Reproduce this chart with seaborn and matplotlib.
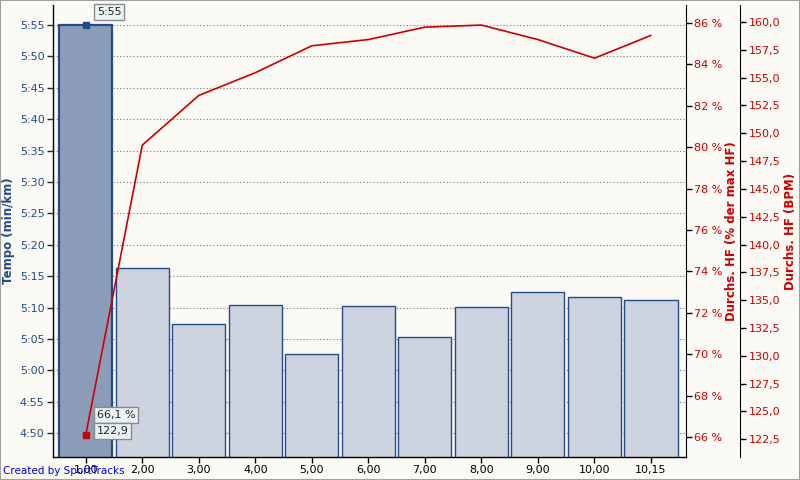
import matplotlib
matplotlib.use("Agg")
import matplotlib.pyplot as plt
import matplotlib.ticker as mticker
import matplotlib.patches as mpatches
import seaborn as sns
import pandas as pd

# Data
km_labels = ["1,00", "2,00", "3,00", "4,00", "5,00", "6,00", "7,00", "8,00", "9,00", "10,00", "10,15"]
pace_sec = [355, 316.3, 307.4, 310.4, 302.6, 310.3, 305.3, 310.1, 312.5, 311.7, 311.2]
hr_pct = [66.1, 80.1, 82.5, 83.6, 84.9, 85.2, 85.8, 85.9, 85.2, 84.3, 85.4]
max_hr = 122.9 / 0.661

bg = "#FBFAF5"
navy = "#244A8A"
red = "#CC0000"

sns.set_style("white")
plt.rcParams["font.family"] = ["DejaVu Sans"]

df = pd.DataFrame({"km": km_labels, "pace": pace_sec, "pct": hr_pct})

fig = plt.figure(figsize=(8, 4.8), dpi=100, facecolor=bg)
ax = fig.add_axes([53 / 800, 23 / 480, 633 / 800, 452 / 480])
ax.set_facecolor(bg)

sns.barplot(data=df, x="km", y="pace", color="#CDD3DF", edgecolor=navy,
            linewidth=1, width=0.94, saturation=1, ax=ax)
ax.patches[0].set_facecolor("#8A9CB8")
ax.patches[0].set_linewidth(1.6)

ax.set_ylim(286.2, 358.2)
ax.set_xlim(-0.58, 10.62)
ax.yaxis.set_major_locator(mticker.MultipleLocator(5))
ax.yaxis.set_major_formatter(mticker.FuncFormatter(lambda v, p: f"{int(v // 60)}:{int(round(v % 60)):02d}"))
ax.grid(axis="y", color="#777777", linestyle=(0, (1, 2)), linewidth=0.8)
for b in ax.patches:
    b.set_zorder(1)
for gl in ax.get_ygridlines():
    gl.set_zorder(2)
ax.tick_params(axis="y", labelsize=8, length=4, width=1, direction="out", left=True, pad=2)
ax.tick_params(axis="x", colors="black", labelsize=8, length=4, width=1, direction="out", bottom=True, pad=2)
for t in ax.get_yticklabels():
    t.set_color(navy)
ax.set_xlabel("")
ax.set_ylabel("Tempo (min/km)", color=navy, fontsize=8.5, fontweight="bold")
ax.yaxis.set_label_coords(-38 / 633, 0.5)
for s in ["left", "bottom"]:
    ax.spines[s].set_color("black")
    ax.spines[s].set_linewidth(1)
ax.spines["top"].set_visible(False)
ax.spines["right"].set_visible(False)

# heart rate in % of max
ax2 = ax.twinx()
ax2.plot(range(len(hr_pct)), hr_pct, color=red, linewidth=1.2, zorder=5)
ax2.set_ylim(65.03, 86.87)
ax2.yaxis.set_major_locator(mticker.MultipleLocator(2))
ax2.yaxis.set_major_formatter(mticker.FuncFormatter(lambda v, p: f"{int(round(v))} %"))
ax2.tick_params(axis="y", labelcolor=red, color="black", labelsize=8, length=4, width=1, pad=2)
ax2.set_ylabel("Durchs. HF (% der max HF)", color=red, fontsize=8.5, fontweight="bold", labelpad=2)
ax2.spines["right"].set_color("black")
for s in ["top", "left", "bottom"]:
    ax2.spines[s].set_visible(False)

# heart rate in BPM
ax3 = ax.twinx()
ax3.set_ylim(65.03 * max_hr / 100, 86.87 * max_hr / 100)
ax3.spines["right"].set_position(("outward", 54 * 0.72))
ax3.yaxis.set_major_locator(mticker.MultipleLocator(2.5))
ax3.yaxis.set_major_formatter(mticker.FuncFormatter(lambda v, p: f"{v:.1f}".replace(".", ",")))
ax3.tick_params(axis="y", labelcolor=red, color="black", labelsize=8, length=4, width=1, pad=2)
ax3.set_ylabel("Durchs. HF (BPM)", color=red, fontsize=8.5, fontweight="bold", labelpad=3)
ax3.spines["right"].set_color("black")
for s in ["top", "left", "bottom"]:
    ax3.spines[s].set_visible(False)

# markers and labels
ax.plot([0], [pace_sec[0]], marker="s", color=navy, markersize=5, zorder=6, clip_on=False)
ax2.plot([0], [hr_pct[0]], marker="s", color=red, markersize=5, zorder=6)
box = dict(boxstyle="square,pad=0.25", facecolor="#EAF3F3", edgecolor="#8A8A8A", linewidth=1)
ax.annotate("5:55", xy=(0, pace_sec[0]), xytext=(11, 13), textcoords="offset pixels",
            fontsize=8, va="center", bbox=box, zorder=7, annotation_clip=False)
ax2.annotate("66,1 %", xy=(0, hr_pct[0]), xytext=(11, 20), textcoords="offset pixels",
             fontsize=8, va="center", bbox=box, zorder=7)
ax2.annotate("122,9", xy=(0, hr_pct[0]), xytext=(11, 4), textcoords="offset pixels",
             fontsize=8, va="center", bbox=box, zorder=7)

fig.text(3 / 800, 1 - 471 / 480, "Created by SportTracks", color="#0000EE", fontsize=7.5, va="center")
fig.patches.append(mpatches.Rectangle((0, 0), 1, 1, transform=fig.transFigure, fill=False,
                                      edgecolor="#A0A0A0", linewidth=1.5))

fig.savefig("out.png", dpi=100, facecolor=bg)
